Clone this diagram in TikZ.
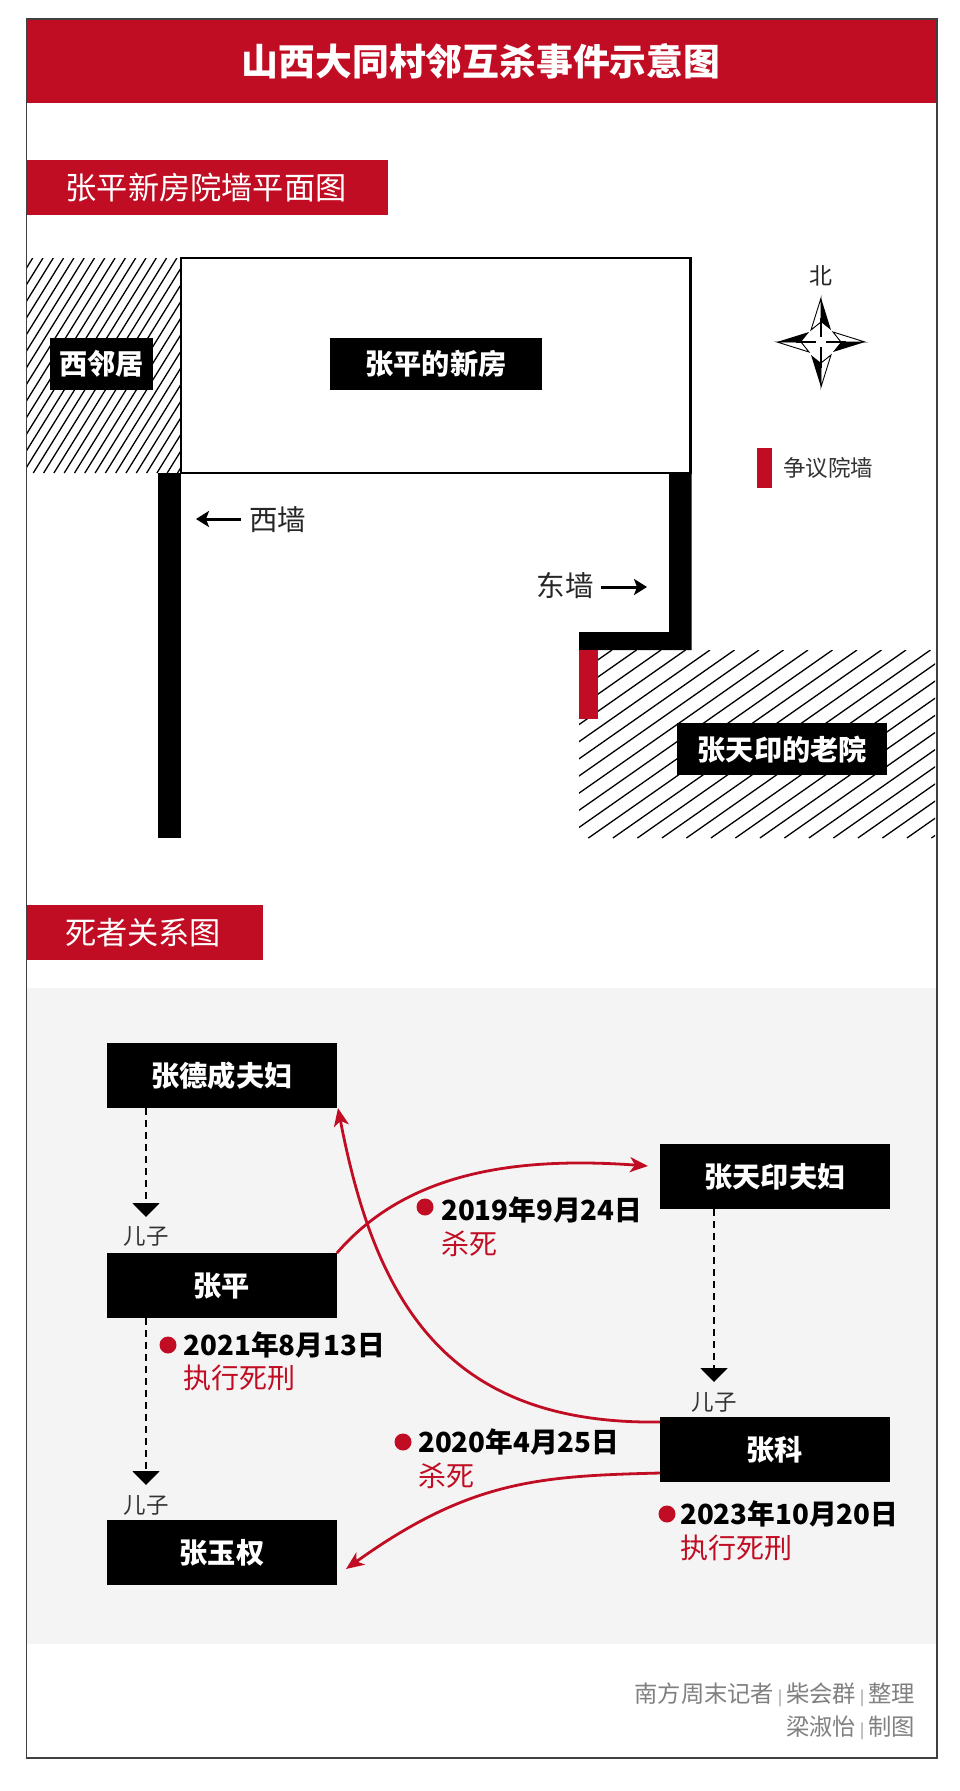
\documentclass[tikz,border=0pt]{standalone}
\usepackage{fontspec}
\setmainfont{Noto Sans CJK SC}
\usetikzlibrary{arrows.meta}
\definecolor{nred}{HTML}{C10D23}
\definecolor{panel}{HTML}{F4F4F4}
\tikzset{
  blackbox/.style={fill=black,text=white,font=\fontsize{28.2}{30}\selectfont\bfseries,inner sep=0pt,anchor=north west,align=center},
  redbar/.style={fill=nred,draw=none},
  sectitle/.style={text=white,font=\fontsize{31.2}{34}\selectfont,inner sep=0pt},
  hatchline/.style={black,line width=1.3pt},
  wallfill/.style={fill=black,draw=none},
  sonlabel/.style={text=black!80,font=\fontsize{22.5}{24}\selectfont,inner sep=0pt},
  datelabel/.style={text=black,font=\fontsize{27.7}{30}\selectfont\bfseries,inner sep=0pt,anchor=west},
  eventlabel/.style={text=nred,font=\fontsize{28}{30}\selectfont,inner sep=0pt,anchor=west},
  walllabel/.style={text=black!85,font=\fontsize{28.5}{30}\selectfont,inner sep=0pt},
  creditlabel/.style={text=black!50,font=\fontsize{23.3}{26}\selectfont,inner sep=0pt,anchor=east},
  dot/.style={circle,fill=nred,inner sep=0pt,minimum size=17pt},
  sonarrow/.style={dash pattern=on 7pt off 5pt,line width=2pt,-{Triangle[width=27pt,length=14pt]}},
  killarrow/.style={nred,line width=2.8pt,-{Stealth[length=18pt,width=15pt,inset=5pt]}},
  wallarrow/.style={black,line width=3pt,-{Stealth[length=13pt,width=16pt,inset=3pt]}},
}
\newcommand{\creditbar}{\hspace{4pt}{\fontsize{15}{18}\selectfont|}\hspace{4pt}}
\begin{document}
\begin{tikzpicture}[x=1pt,y=-1pt]
\useasboundingbox (0,0) rectangle (960,1791);
\fill[white] (0,0) rectangle (960,1791);

% grey panel
\fill[panel] (27,988) rectangle (936,1644);

% header and section bars
\fill[redbar] (26.5,19) rectangle (937,103);
\node[text=white,font=\fontsize{36.8}{40}\selectfont\bfseries,inner sep=0pt] (title) at (481,61) {山西大同村邻互杀事件示意图};
\fill[redbar] (26.5,160) rectangle (388,215);
\node[sectitle] (sec1) at (206,188) {张平新房院墙平面图};
\fill[redbar] (26.5,905) rectangle (263,960);
\node[sectitle] (sec2) at (143,933) {死者关系图};

% west hatch
\begin{scope}
\clip (26.5,258) rectangle (180,473);
\foreach \i in {-2,...,27} {
  \draw[hatchline] ({43+10.3*\i},258) -- ({43+10.3*\i-133.3},473);
}
\end{scope}
% south-east hatch
\begin{scope}
\clip (579,650) rectangle (935,838);
\foreach \i in {-1,...,25} {
  \draw[hatchline] ({612+24.5*\i},650) -- ({612+24.5*\i-268.6},838);
}
\end{scope}

% house
\draw[black,line width=2.4pt] (181,258) rectangle (690.5,473);
% walls
\fill[wallfill] (158,473) rectangle (181,838);
\fill[wallfill] (669,473) -- (691.5,473) -- (691.5,650) -- (579,650) -- (579,632) -- (669,632) -- cycle;
\fill[redbar] (579,650) rectangle (598,719);

% labelled boxes in the plan
\node[blackbox,minimum width=103pt,minimum height=52pt] (westn) at (50,338) {西邻居};
\node[blackbox,minimum width=212.5pt,minimum height=52pt] (newhouse) at (329.5,338) {张平的新房};
\node[blackbox,minimum width=210pt,minimum height=52pt] (oldyard) at (677,723) {张天印的老院};

% wall labels
\node[walllabel] (wwall) at (277.5,520) {西墙};
\coordinate (wtip) at (196,519);
\draw[wallarrow] (wwall.west |- wtip) ++(-8,0) -- (wtip);
\node[walllabel] (ewall) at (565,586) {东墙};
\coordinate (etip) at (647,587);
\draw[wallarrow] (ewall.east |- etip) ++(7,0) -- (etip);

% compass
\node[text=black!85,font=\fontsize{23}{26}\selectfont,inner sep=0pt] (north) at (821,276) {北};
\begin{scope}[line width=0.9pt,line join=miter]
  \draw[fill=white] (821,298) -- (811,330) -- (821,322) -- cycle;
  \fill (821,298) -- (831,330) -- (821,322) -- cycle;
  \draw[fill=white] (865,342) -- (833,332) -- (841,342) -- cycle;
  \fill (865,342) -- (833,352) -- (841,342) -- cycle;
  \draw[fill=white] (821,387) -- (831,355) -- (821,363) -- cycle;
  \fill (821,387) -- (811,355) -- (821,363) -- cycle;
  \draw[fill=white] (777,342) -- (809,352) -- (801,342) -- cycle;
  \fill (777,342) -- (809,332) -- (801,342) -- cycle;
  \draw[line width=2.2pt] (821,318) -- (821,337) (821,347) -- (821,368) (796,342) -- (816,342) (826,342) -- (846,342);
\end{scope}

% legend
\fill[redbar] (757,448) rectangle (772,488);
\node[text=black!80,font=\fontsize{22.5}{24}\selectfont,inner sep=0pt] (legend) at (828,468) {争议院墙};

% relation boxes
\node[blackbox,minimum width=229.5pt,minimum height=65pt] (dc) at (107,1043) {张德成夫妇};
\node[blackbox,minimum width=229.5pt,minimum height=65pt] (zp) at (107,1253) {张平};
\node[blackbox,minimum width=229.5pt,minimum height=65pt] (yq) at (107,1520) {张玉权};
\node[blackbox,minimum width=229.5pt,minimum height=65pt] (ty) at (660,1144) {张天印夫妇};
\node[blackbox,minimum width=229.5pt,minimum height=65pt] (zk) at (660,1417) {张科};

% son links
\node[sonlabel] (son1) at (146,1236) {儿子};
\node[sonlabel] (son2) at (146,1505) {儿子};
\node[sonlabel] (son3) at (714,1402) {儿子};
\coordinate (t1) at (146,1217);
\coordinate (t2) at (146,1485);
\coordinate (t3) at (714,1382);
\draw[sonarrow] (t1 |- dc.south) -- (t1);
\draw[sonarrow] (t2 |- zp.south) -- (t2);
\draw[sonarrow] (t3 |- ty.south) -- (t3);

% kill links
\coordinate (kty) at (648,1166);
\coordinate (kdc) at (338,1108);
\coordinate (kyq) at (346,1569);
\coordinate (zkup) at (660,1422);
\coordinate (zklo) at (660,1473);
\draw[killarrow] (zp.north east) .. controls (400,1180) and (498,1155) .. (kty);
\draw[killarrow] (zkup) .. controls (445,1425) and (375,1300) .. (kdc);
\draw[killarrow] (zklo) .. controls (540,1476) and (470,1480) .. (kyq);

% dates
\node[dot] (d1) at (425,1207) {};
\node[datelabel] (dl1) at (441,1210) {2019年9月24日};
\node[eventlabel] (el1) at (441,1244) {杀死};
\node[dot] (d2) at (168,1345) {};
\node[datelabel] (dl2) at (183.5,1345) {2021年8月13日};
\node[eventlabel] (el2) at (183.5,1378) {执行死刑};
\node[dot] (d3) at (403,1442) {};
\node[datelabel] (dl3) at (418,1442) {2020年4月25日};
\node[eventlabel] (el3) at (418,1476) {杀死};
\node[dot] (d4) at (667,1514) {};
\node[datelabel] (dl4) at (680,1514) {2023年10月20日};
\node[eventlabel] (el4) at (680,1548) {执行死刑};

% credits
\node[creditlabel] (cr1) at (915,1695) {南方周末记者\creditbar 柴会群\creditbar 整理};
\node[creditlabel] (cr2) at (915,1728) {梁淑怡\creditbar 制图};

% frame
\draw[black!75,line width=1.6pt] (26.5,19) rectangle (937,1758);
\end{tikzpicture}
\end{document}
